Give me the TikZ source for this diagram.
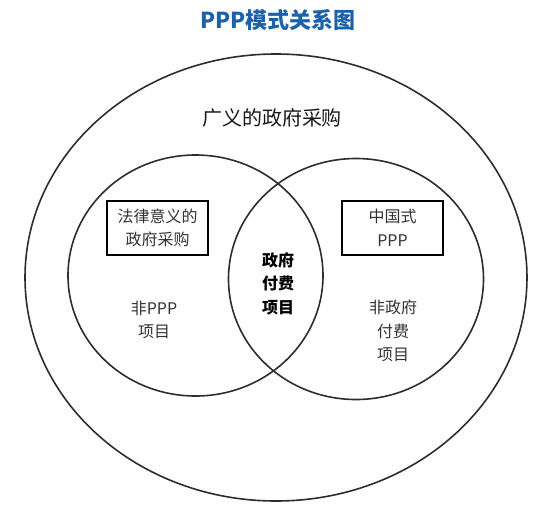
\documentclass[tikz,border=0pt]{standalone}
\usepackage{fontspec}
\setmainfont{Noto Sans CJK SC}
\usepackage{xcolor}
\usetikzlibrary{positioning, shapes.geometric}
\definecolor{titleblue}{RGB}{28,98,170}
\definecolor{linegray}{RGB}{45,45,45}

\begin{document}
\begin{tikzpicture}[
  x=1pt, y=-1pt,
  ring/.style   = {draw=linegray, line width=1.6pt, ellipse, minimum width=255pt,
                   minimum height=241pt, inner sep=0pt},
  lbl/.style    = {align=center, font=\fontsize{16}{23.5}\selectfont, text=black!80},
  tagbox/.style = {draw=black, line width=2.6pt, minimum width=101pt, minimum height=54pt,
                   align=center, inner sep=0pt, font=\fontsize{16}{23.5}\selectfont, text=black!80}
]
  \useasboundingbox (0,0) rectangle (550,515);
  \node[font=\fontsize{22}{26}\selectfont\bfseries, text=titleblue] (title) at (278,20) {PPP模式关系图};

  % outer set
  \node[ring, minimum width=502pt, minimum height=447pt] (outer) at (276,277.5) {};
  \node[font=\fontsize{20}{24}\selectfont, text=black!90] (broad) at (272,118) {广义的政府采购};

  % two overlapping sets
  \node[ring] (L) at (195.5,275.5) {};
  \node[ring] (R) at (356,279) {};

  \node[tagbox] (law) at (157.5,228) {法律意义的\\政府采购};
  \node[tagbox] (cn)  at (392.5,228) {中国式\\PPP};

  \node[lbl] (nonppp) at (154,320) {非PPP\\项目};
  \node[lbl, font=\fontsize{16}{23.5}\selectfont\bfseries, text=black] (gov) at (278,283.5) {政府\\付费\\项目};
  \node[lbl] (nongov) at (393,331) {非政府\\付费\\项目};
\end{tikzpicture}
\end{document}
